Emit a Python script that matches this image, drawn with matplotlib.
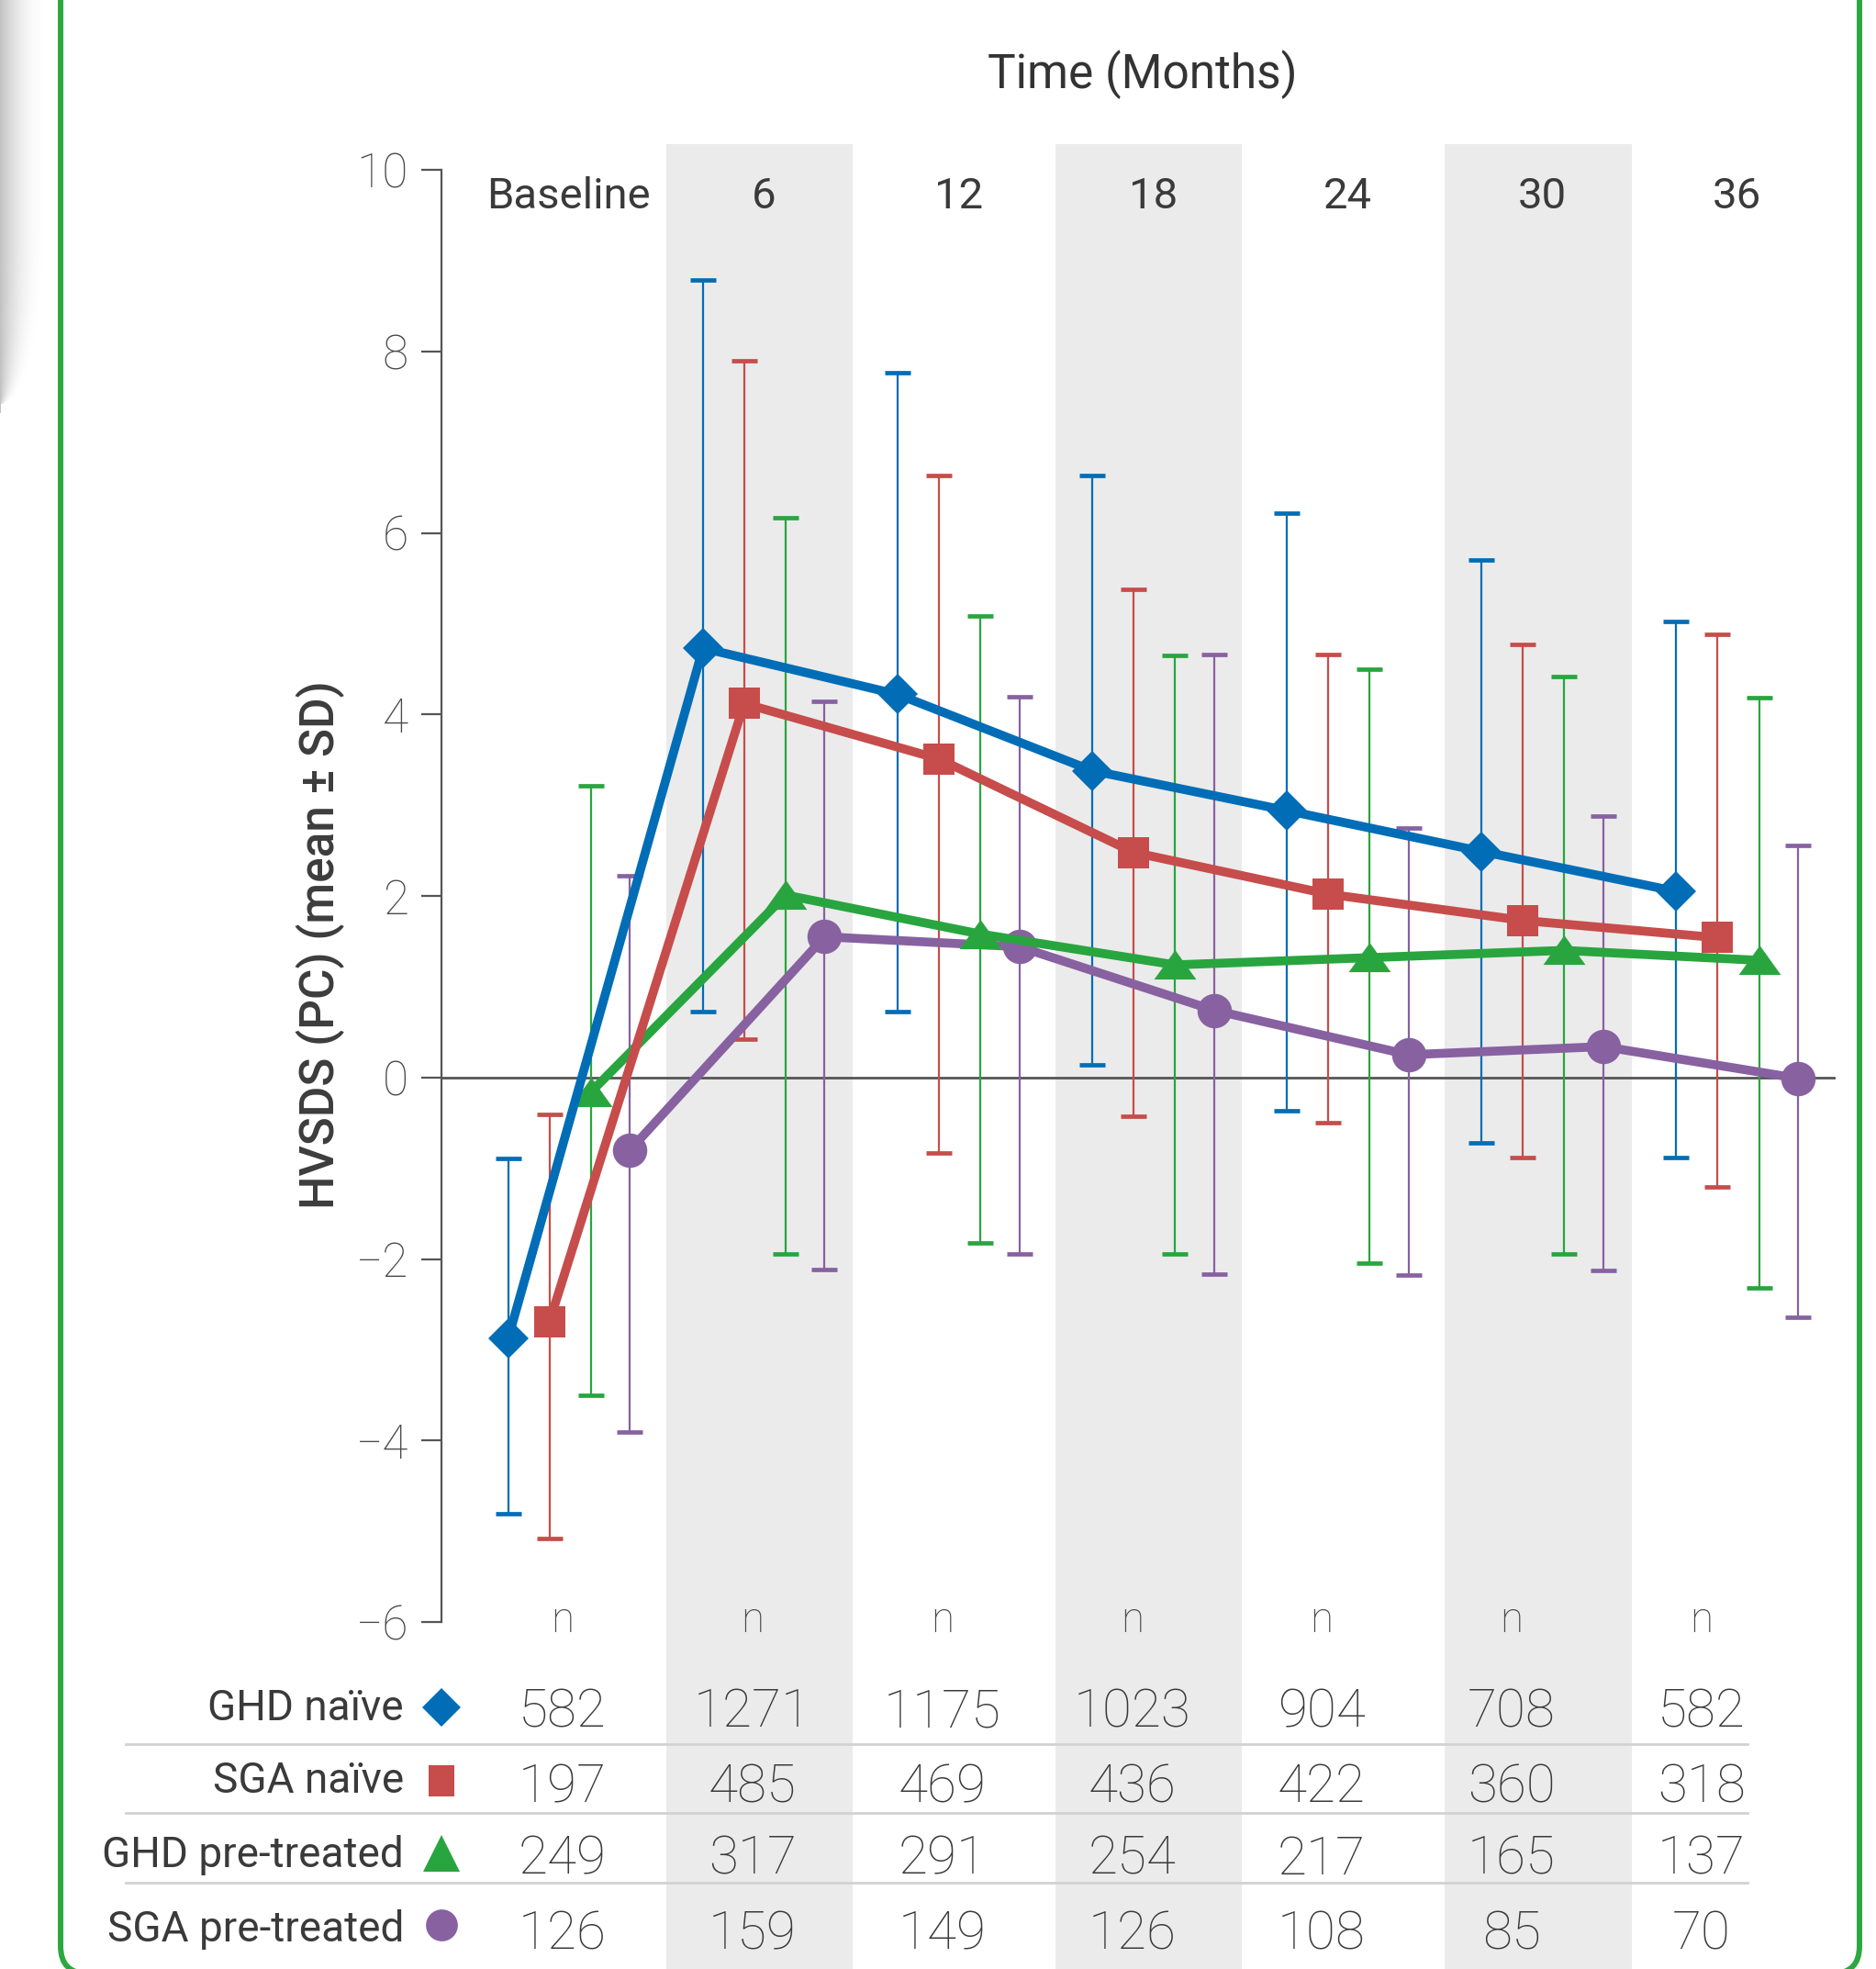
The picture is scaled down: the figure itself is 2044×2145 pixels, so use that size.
import numpy as np
import matplotlib
matplotlib.use("Agg")
import matplotlib.pyplot as plt
from matplotlib.transforms import blended_transform_factory
from matplotlib.patches import Rectangle, FancyBboxPatch
from matplotlib.lines import Line2D

# ── data ──────────────────────────────────────────────────────────────────────
months = [0, 6, 12, 18, 24, 30, 36]
time_labels = ["Baseline", "6", "12", "18", "24", "30", "36"]
shaded_months = [6, 18, 30]

groups = ["GHD naïve", "SGA naïve", "GHD pre-treated", "SGA pre-treated"]

ghd_naive_mean = [-2.87, 4.73, 4.22, 3.38, 2.94, 2.49, 2.05]
ghd_naive_lo = [-4.81, 0.73, 0.73, 0.14, -0.37, -0.72, -0.88]
ghd_naive_hi = [-0.89, 8.79, 7.76, 6.63, 6.22, 5.70, 5.02]

sga_naive_mean = [-2.69, 4.12, 3.51, 2.48, 2.02, 1.73, 1.54]
sga_naive_lo = [-5.08, 0.42, -0.83, -0.43, -0.50, -0.88, -1.21]
sga_naive_hi = [-0.41, 7.90, 6.63, 5.38, 4.66, 4.77, 4.88]

ghd_pre_mean = [-0.16, 2.01, 1.58, 1.24, 1.32, 1.40, 1.29]
ghd_pre_lo = [-3.50, -1.94, -1.82, -1.94, -2.05, -1.94, -2.32]
ghd_pre_hi = [3.21, 6.17, 5.08, 4.65, 4.50, 4.42, 4.18]

sga_pre_mean = [-0.80, 1.55, 1.44, 0.74, 0.25, 0.34, -0.01]
sga_pre_lo = [-3.91, -2.12, -1.94, -2.17, -2.18, -2.13, -2.64]
sga_pre_hi = [2.22, 4.14, 4.19, 4.66, 2.75, 2.88, 2.56]

n_ghd_naive = [582, 1271, 1175, 1023, 904, 708, 582]
n_sga_naive = [197, 485, 469, 436, 422, 360, 318]
n_ghd_pre = [249, 317, 291, 254, 217, 165, 137]
n_sga_pre = [126, 159, 149, 126, 108, 85, 70]

# ── styling ───────────────────────────────────────────────────────────────────
W, H, DPI = 2044, 2145, 100
FONT = ["Roboto", "DejaVu Sans"]

BLUE, RED, GREEN, PURPLE = "#006DB6", "#C64D4B", "#29A53F", "#8861A1"
BAND = "#EBEBEB"

tri = [(-1, -0.68), (1, -0.68), (0, 0.72)]
series = [
    # mean, lo, hi, n, colour, marker, size, offset (months)
    (ghd_naive_mean, ghd_naive_lo, ghd_naive_hi, n_ghd_naive, BLUE, "D", 22.5, -1.87),
    (sga_naive_mean, sga_naive_lo, sga_naive_hi, n_sga_naive, RED, "s", 24, -0.60),
    (ghd_pre_mean, ghd_pre_lo, ghd_pre_hi, n_ghd_pre, GREEN, tri, 33, 0.68),
    (sga_pre_mean, sga_pre_lo, sga_pre_hi, n_sga_pre, PURPLE, "o", 27, 1.88),
]


def fx(px):
    return px / W


def fy(px):
    return 1 - px / H


fig = plt.figure(figsize=(W / DPI, H / DPI), dpi=DPI, facecolor="white")
ax = fig.add_axes([fx(481), fy(1767), fx(2000) - fx(481), fy(185) - fy(1767)])
ax.patch.set_visible(False)
ax.set_xlim(-3.93, 39.04)
ax.set_ylim(-6, 10)
bt = blended_transform_factory(ax.transData, fig.transFigure)

# shaded columns run through header and table
for m in shaded_months:
    ax.add_patch(Rectangle((m - 3.0, fy(2160)), 5.75, fy(157) - fy(2160),
                           transform=bt, color=BAND, lw=0, clip_on=False, zorder=0))

ax.axhline(0, color="#555555", lw=2, zorder=1)

for i, (mean, lo, hi, n, c, mk, ms, off) in enumerate(series):
    x = np.array(months) + off
    mean = np.array(mean)
    yerr = [mean - np.array(lo), np.array(hi) - mean]
    ax.errorbar(x, mean, yerr=yerr, fmt="none", ecolor=c, elinewidth=1.6,
                capsize=10, capthick=3.4, zorder=2)
for i, (mean, lo, hi, n, c, mk, ms, off) in reversed(list(enumerate(series))):
    x = np.array(months) + off
    ax.plot(x, mean, color=c, lw=7, marker=mk, ms=ms, mew=0, zorder=6 - i,
            solid_joinstyle="miter")

# axes
for s in ["top", "right", "bottom"]:
    ax.spines[s].set_visible(False)
ax.spines["left"].set_color("#555555")
ax.spines["left"].set_linewidth(1.6)
ax.set_xticks([])
ax.set_yticks(range(-6, 11, 2))
ax.set_yticklabels([str(v).replace("-", "\u2212") for v in range(-6, 11, 2)])
ax.tick_params(axis="y", length=16, width=1.6, color="#555555", pad=10,
               labelsize=37, labelcolor="#4a4a4a")
for lbl in ax.get_yticklabels():
    lbl.set_family(FONT)
    lbl.set_weight("light")

fig.text(fx(349), fy(1029), "HVSDS (PC) (mean \u00b1 SD)", rotation=90,
         ha="center", va="center", fontsize=37, family=FONT,
         weight="medium", color="#3c3c3c")
fig.text(fx(1245), fy(96), "Time (Months)", ha="center", va="baseline",
         fontsize=37, family=FONT, color="#333333")

# header row
for m, lab in zip(months, time_labels):
    ax.text(m, fy(227), lab, transform=bt, ha="center", va="baseline",
            fontsize=34, family=FONT, color="#3a3a3a")

# n table
col_x = [m * 0.975 - 0.2 for m in months]
for cx in col_x:
    ax.text(cx, fy(1778), "n", transform=bt, ha="center", va="baseline",
            fontsize=33, family=FONT, weight="light", color="#4a4a4a")

num_base = [1881, 1963, 2042, 2123]
lab_base = [1874, 1953, 2034, 2115]
mark_y = [1860, 1940, 2019, 2097]
tab_markers = [("D", 21.5), ([(-0.4, -0.5), (0.4, -0.5), (0.4, 0.5), (-0.4, 0.5)], 25),
               ("^", 29), ("o", 25)]
for r, (grp, s) in enumerate(zip(groups, series)):
    counts, c = s[3], s[4]
    for cx, v in zip(col_x, counts):
        ax.text(cx, fy(num_base[r]), str(v), transform=bt, ha="center",
                va="baseline", fontsize=42, family=FONT, weight="light",
                color="#3a3a3a")
    fig.text(fx(440), fy(lab_base[r]), grp, ha="right", va="baseline",
             fontsize=33, family=FONT, color="#3a3a3a")
    mk, ms = tab_markers[r]
    fig.add_artist(Line2D([fx(481)], [fy(mark_y[r])], marker=mk, ms=ms,
                          mew=0, color=c, transform=fig.transFigure))

for yy in [1900, 1975, 2051]:
    fig.add_artist(Line2D([fx(137), fx(1904)], [fy(yy)] * 2, color="#d2d2d2",
                          lw=2, transform=fig.transFigure))

# green frame
fig.add_artist(FancyBboxPatch((66 / DPI, -0.05), (2026 - 66) / DPI, 22.5,
                              boxstyle="round,pad=0,rounding_size=0.3",
                              transform=fig.dpi_scale_trans, fill=False,
                              ec="#2BA83F", lw=4.3))

# soft grey page shadow at the left edge
sh_h, sh_w = 450, 70
yy, xx = np.mgrid[0:sh_h, 0:sh_w]
wid = np.where(yy < 250, 55.0,
               55.0 * np.sqrt(np.clip(1 - ((yy - 250) / 190.0) ** 2, 0, 1)))
wid = np.maximum(wid, 1e-3)
dark = 0.24 * np.clip(1 - xx / wid, 0, 1) ** 2.2
shadow = np.zeros((sh_h, sh_w, 4))
shadow[..., 3] = dark
fig.figimage(shadow, xo=0, yo=H - sh_h, origin="upper", zorder=5)

fig.savefig("out.png", dpi=DPI, facecolor="white")
